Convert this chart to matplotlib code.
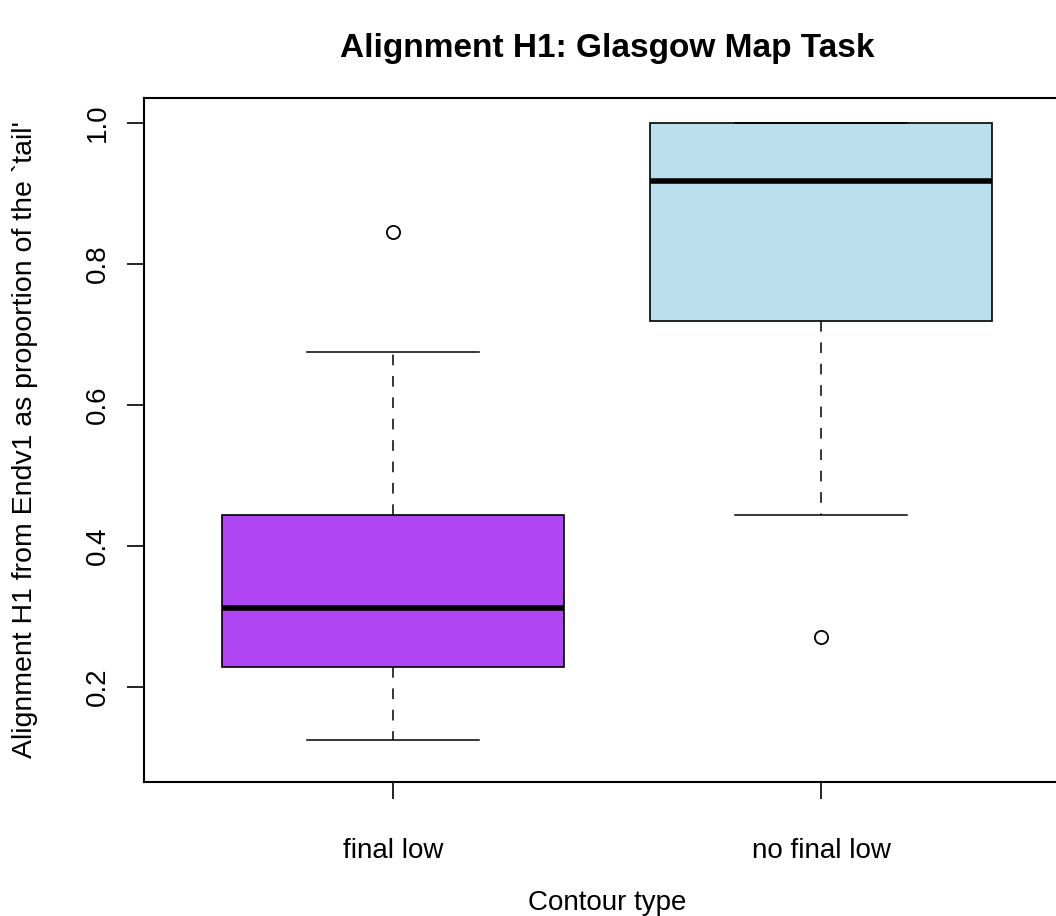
import matplotlib
matplotlib.use("Agg")
import matplotlib.pyplot as plt

plt.rcParams['font.family'] = ['Liberation Sans', 'DejaVu Sans']

# box statistics
groups = ["final low", "no final low"]
q1 = [0.228, 0.719]
medians = [0.312, 0.918]
q3 = [0.443, 1.0]
whisker_low = [0.125, 0.443]
whisker_high = [0.675, 1.0]
outliers = [[0.845], [0.270]]
box_colors = ["#B045F3", "#BBDFEC"]
y_ticks = [0.2, 0.4, 0.6, 0.8, 1.0]

fig = plt.figure(figsize=(10.56, 9.16), dpi=100)
ax = fig.add_axes([144 / 1056, 1 - 782 / 916, 926 / 1056, 684 / 916])

stats = []
for i, name in enumerate(groups):
    stats.append({
        "label": name,
        "q1": q1[i],
        "med": medians[i],
        "q3": q3[i],
        "whislo": whisker_low[i],
        "whishi": whisker_high[i],
        "fliers": outliers[i],
    })

bp = ax.bxp(
    stats,
    positions=[1, 2],
    widths=0.8,
    patch_artist=True,
    boxprops=dict(linewidth=1.2, edgecolor="black"),
    medianprops=dict(color="black", linewidth=4, solid_capstyle="butt"),
    whiskerprops=dict(color="black", linewidth=1.1, linestyle=(0, (7, 7))),
    capprops=dict(color="black", linewidth=1.1),
    flierprops=dict(marker="o", markersize=9.5, markerfacecolor="none",
                    markeredgecolor="black", markeredgewidth=1.3),
    capwidths=0.4,
)
for patch, c in zip(bp["boxes"], box_colors):
    patch.set_facecolor(c)

ax.set_xlim(0.418, 2.582)
ax.set_ylim(0.065, 1.035)

ax.set_yticks(y_ticks)
ax.set_yticklabels([f"{v:.1f}" for v in y_ticks], rotation=90, va="center")
ax.set_xticks([1, 2])
ax.set_xticklabels(groups)

ax.tick_params(axis="both", direction="out", length=12, width=1.2,
               labelsize=20, color="black")
ax.tick_params(axis="y", pad=12)
ax.tick_params(axis="x", pad=28)
for s in ax.spines.values():
    s.set_linewidth(1.5)

ax.set_ylabel("Alignment H1 from Endv1 as proportion of the `tail'", fontsize=20.5)
ax.yaxis.set_label_coords((38 - 144) / 926, 0.5)
ax.set_xlabel("Contour type", fontsize=20, va="center")
ax.xaxis.set_label_coords(0.5, (782 - 903) / 684)

fig.text(607 / 1056, 1 - 48 / 916, "Alignment H1: Glasgow Map Task",
         ha="center", va="center", fontsize=24, fontweight="bold")

fig.savefig("out.png", dpi=100)
